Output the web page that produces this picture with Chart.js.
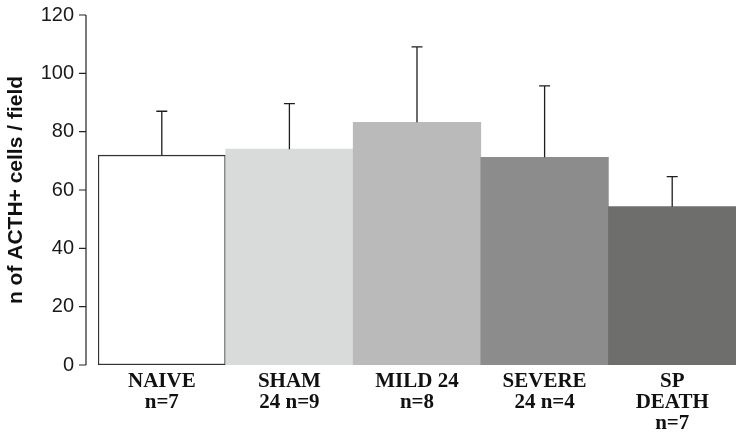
<!DOCTYPE html>
<html>
<head>
<meta charset="utf-8">
<script src="https://cdn.jsdelivr.net/npm/chart.js@4/dist/chart.umd.min.js"></script>
<style>
  body { margin: 0; background: #fff; }
  #wrap { width: 736px; height: 436px; position: relative; }
</style>
</head>
<body>
<div id="wrap"><canvas id="acthChart"></canvas></div>
<script>
// Datos
const categories = [['NAIVE', 'n=7'], ['SHAM', '24 n=9'], ['MILD 24', 'n=8'], ['SEVERE', '24 n=4'], ['SP', 'DEATH', 'n=7']];
const means = [72, 74, 83.2, 71.2, 54.3];
const sdUp = [15, 15.6, 25.9, 24.5, 10.3];
const yTicks = [0, 20, 40, 60, 80, 100, 120];

const barColors = ['#ffffff', '#d9dada', '#bababa', '#8c8c8c', '#6e6e6c'];
const barBorders = ['#333333', 'rgba(0,0,0,0)', 'rgba(0,0,0,0)', 'rgba(0,0,0,0)', 'rgba(0,0,0,0)'];
const barBorderWidths = [1.5, 0, 0, 0, 0];

// Plugin para el eje Y desplazado y las barras de error
const extrasPlugin = {
    id: 'extras',
    afterDatasetsDraw(chart) {
        const ctx = chart.ctx;
        const x = chart.scales.x;
        const y = chart.scales.y;
        const axisX = chart.chartArea.left - 12;

        ctx.save();
        ctx.strokeStyle = '#222';
        ctx.lineWidth = 1.2;
        ctx.beginPath();
        ctx.moveTo(axisX, y.getPixelForValue(yTicks[yTicks.length - 1]));
        ctx.lineTo(axisX, y.getPixelForValue(0));
        for (let i = 0; i < yTicks.length; i++) {
            let py = y.getPixelForValue(yTicks[i]);
            ctx.moveTo(axisX - 7, py);
            ctx.lineTo(axisX, py);
        }
        ctx.stroke();

        // Barras de error (solo hacia arriba)
        ctx.strokeStyle = '#1e1e1e';
        ctx.lineWidth = 1.3;
        for (let i = 0; i < means.length; i++) {
            let px = x.getPixelForValue(i);
            let top = y.getPixelForValue(means[i] + sdUp[i]);
            let base = y.getPixelForValue(means[i]);
            ctx.beginPath();
            ctx.moveTo(px, base);
            ctx.lineTo(px, top);
            ctx.moveTo(px - 5.5, top);
            ctx.lineTo(px + 5.5, top);
            ctx.stroke();
        }
        ctx.restore();
    }
};

new Chart(document.getElementById('acthChart').getContext('2d'), {
    type: 'bar',
    data: {
        labels: categories,
        datasets: [{
            data: means,
            backgroundColor: barColors,
            borderColor: barBorders,
            borderWidth: barBorderWidths,
            borderSkipped: false,
            barPercentage: 1,
            categoryPercentage: 1
        }]
    },
    options: {
        responsive: true,
        maintainAspectRatio: false,
        devicePixelRatio: 1,
        animation: false,
        layout: { padding: { top: 15, right: 0, left: 0, bottom: 0 } },
        plugins: {
            legend: { display: false },
            tooltip: { enabled: false }
        },
        scales: {
            x: {
                grid: { display: false, drawTicks: false },
                border: { display: false },
                afterFit(scale) {
                    scale.height = 71;
                    scale.paddingTop = 0;
                    scale.paddingBottom = 0;
                },
                ticks: {
                    color: '#111',
                    padding: 6,
                    maxRotation: 0,
                    autoSkip: false,
                    font: { family: '"Liberation Serif", "Times New Roman", serif', size: 21, weight: 'bold', lineHeight: 1.0 }
                }
            },
            y: {
                min: 0,
                max: 120,
                grid: { display: false, drawTicks: false },
                border: { display: false },
                afterFit(scale) {
                    scale.width = 98;
                    scale.paddingTop = 0;
                    scale.paddingBottom = 0;
                },
                ticks: {
                    stepSize: 20,
                    color: '#1a1a1a',
                    padding: 24,
                    font: { family: '"Liberation Sans", Arial, sans-serif', size: 20 }
                },
                title: {
                    display: true,
                    text: 'n of ACTH+ cells / field',
                    color: '#111',
                    padding: { top: 4, bottom: 0 },
                    font: { family: '"Liberation Sans", Arial, sans-serif', size: 21, weight: 'bold' }
                }
            }
        }
    },
    plugins: [extrasPlugin]
});
</script>
</body>
</html>
